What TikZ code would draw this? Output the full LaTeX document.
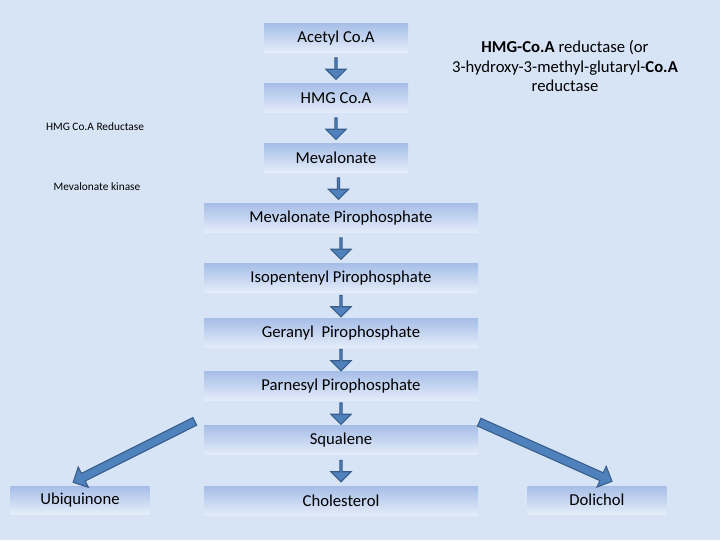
\documentclass[tikz,border=0pt]{standalone}
\usepackage{fontspec}
\setmainfont{Carlito}
\usetikzlibrary{shapes.arrows, positioning, calc}
\definecolor{bgblue}{RGB}{214,228,246}
\definecolor{boxtop}{RGB}{166,190,231}
\definecolor{boxbot}{RGB}{228,237,250}
\definecolor{arrfill}{RGB}{79,129,189}
\definecolor{arredge}{RGB}{56,93,138}

\begin{document}
\begin{tikzpicture}[x=0.75pt, y=-0.75pt,
    compound/.style={rectangle, top color=boxtop, bottom color=boxbot,
      minimum height=22pt, inner sep=1pt, align=center,
      font=\fontsize{12.5}{14}\selectfont},
    narrow/.style={compound, minimum width=108pt},
    wide/.style={compound, minimum width=205.5pt},
    side/.style={compound, minimum width=104pt, minimum height=21pt},
    down/.style={single arrow, draw=arredge, fill=arrfill, line width=0.8pt,
      shape border rotate=270, minimum width=15pt, minimum height=16pt,
      single arrow head extend=3pt, inner sep=0pt},
    diag/.style={single arrow, draw=arredge, fill=arrfill, line width=0.8pt,
      minimum width=17pt, single arrow head extend=4pt, inner sep=2pt},
    note/.style={font=\fontsize{8.5}{10}\selectfont}]

  \fill[bgblue] (0,0) rectangle (720,540);

% PATHWAY

  \node[narrow] (acetyl) at (336,38) {Acetyl Co.A};
  \node[narrow] (hmgcoa) at (336,98) {HMG Co.A};
  \node[narrow] (mevalonate) at (336,158) {Mevalonate};
  \node[wide] (mevpp) at (341,218) {Mevalonate Pirophosphate};
  \node[wide] (isopp) at (341,278) {Isopentenyl Pirophosphate};
  \node[wide] (gerpp) at (341,333) {Geranyl\ \ Pirophosphate};
  \node[wide] (parpp) at (341,386) {Parnesyl Pirophosphate};
  \node[wide] (squalene) at (341,440) {Squalene};
  \node[wide] (cholesterol) at (341,501) {Cholesterol};
  \node[side] (ubiquinone) at (80,500) {Ubiquinone};
  \node[side] (dolichol) at (597,500) {Dolichol};

  % ARROWS

  \node[down] at ($(acetyl.south)!0.5!(hmgcoa.north)$) {};
  \node[down] at ($(hmgcoa.south)!0.5!(mevalonate.north)$) {};
  \node[down] at ($(mevalonate.south)!0.5!(mevpp.north)$) {};
  \node[down] at ($(mevpp.south)!0.5!(isopp.north)$) {};
  \node[down] at ($(isopp.south)!0.5!(gerpp.north)$) {};
  \node[down] at ($(gerpp.south)!0.5!(parpp.north)$) {};
  \node[down] at ($(parpp.south)!0.5!(squalene.north)$) {};
  \node[down] at ($(squalene.south)!0.5!(cholesterol.north)$) {};

  \node[diag, minimum height=102pt, rotate=206.6]
    at ($(squalene.west)!0.5!(ubiquinone.north)+(-6,-12)$) {};
  \node[diag, minimum height=109pt, rotate=-24]
    at ($(squalene.east)!0.5!(dolichol.north)+(6,-12)$) {};

  % ENZYMES

  \node[note] (reductase) at (95,127) {HMG Co.A Reductase};
  \node[note] (kinase) at (97,187) {Mevalonate kinase};
  \node[align=center, font=\fontsize{12.5}{14.5}\selectfont] (hmgname) at (565,66)
    {\textbf{HMG-Co.A} reductase (or\\
     3-hydroxy-3-methyl-glutaryl-\textbf{Co.A}\\
     reductase};

\end{tikzpicture}
\end{document}
